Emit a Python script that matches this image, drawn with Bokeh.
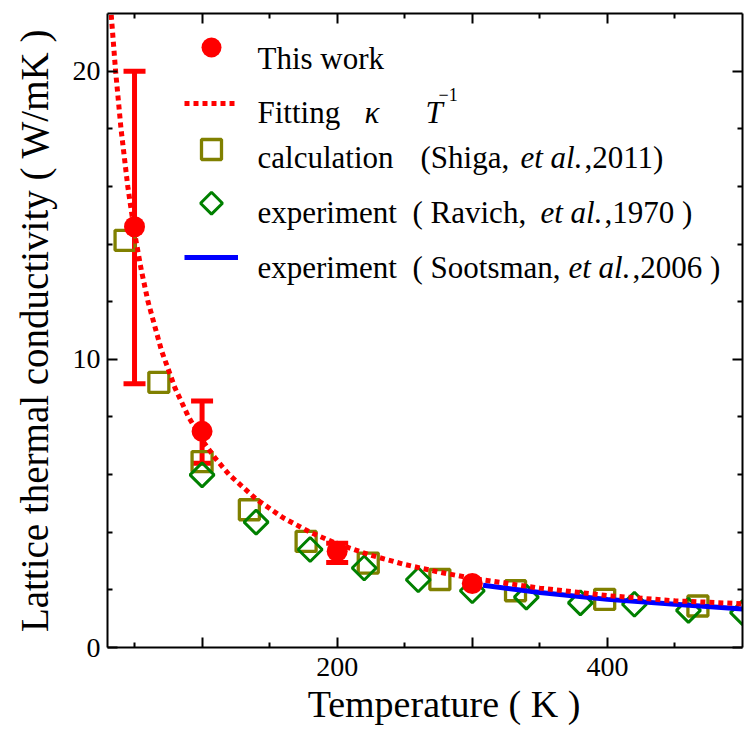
import numpy as np
from bokeh.plotting import figure
from bokeh.models import (Range1d, LinearAxis, FixedTicker, ColumnDataSource,
                          Whisker, TeeHead, Legend, LegendItem, Label)
from bokeh.embed import file_html
from bokeh.resources import INLINE

# ---------------- data ----------------
this_T = [50, 100, 200, 300]
this_k = [14.6, 7.5, 3.34, 2.22]
err_T = [50, 100, 200]
err_hi = [20.0, 8.55, 3.62]
err_lo = [9.15, 6.39, 2.95]

fit_T = [31, 33, 36, 40, 45, 50, 55, 60, 70, 80, 90, 100, 110, 120, 140, 160,
         180, 200, 225, 250, 275, 300, 350, 400, 450, 500]
fit_k = [23.2, 21.8, 20.0, 18.0, 16.0, 14.4, 13.1, 12.0, 10.3, 9.0, 8.0, 7.2,
         6.55, 6.0, 5.15, 4.5, 4.0, 3.6, 3.2, 2.88, 2.62, 2.4, 2.06, 1.80, 1.62, 1.52]

shiga_T = [43, 68, 100, 135, 177, 223, 276, 332, 398, 467]
shiga_k = [14.13, 9.2, 6.45, 4.78, 3.68, 2.93, 2.36, 1.97, 1.67, 1.44]

ravich_T = [100, 140, 180, 220, 260, 300, 340, 380, 420, 460, 500]
ravich_k = [5.99, 4.35, 3.40, 2.76, 2.35, 1.97, 1.75, 1.55, 1.50, 1.29, 1.21]

soots_T = [308, 350, 400, 450, 500]
soots_k = [2.16, 1.91, 1.67, 1.50, 1.34]

x_major = [100, 200, 300, 400]
x_labels = {100: "", 200: "200", 300: "", 400: "400"}
x_minor = [50, 150, 250, 350, 450]
y_major = [0, 10, 20]
y_minor = [2, 4, 6, 8, 12, 14, 16, 18]

FONT = "Liberation Serif"
RED, OLIVE, GREEN, BLUE = "#FF0000", "#808000", "#008000", "#0000FF"

# frame geometry (canvas px)
FL, FT, FR, FB = 107, 13, 742, 647

p = figure(width=750, height=735, output_backend="svg", toolbar_location=None,
           x_range=Range1d(30, 500), y_range=Range1d(0, 22),
           min_border_left=FL, min_border_top=FT, min_border_right=750 - FR,
           min_border_bottom=735 - FB, x_axis_type=None, y_axis_type=None)
p.grid.visible = False
p.outline_line_color = None
p.background_fill_color = "white"
p.border_fill_color = "white"
# pixel-space ranges used only to place a legend key
p.extra_x_ranges = {"px": Range1d(FL, FR)}
p.extra_y_ranges = {"px": Range1d(FB, FT)}


def style_axis(ax, ticker, labels=True):
    ax.ticker = ticker
    ax.axis_line_width = 2
    ax.axis_line_color = "black"
    ax.major_tick_line_color = "black"
    ax.minor_tick_line_color = "black"
    ax.major_tick_line_width = 2
    ax.minor_tick_line_width = 2
    ax.major_tick_in = 10
    ax.major_tick_out = 0
    ax.minor_tick_in = 5
    ax.minor_tick_out = 0
    ax.major_label_text_font = FONT
    ax.major_label_text_color = "black"
    ax.axis_label_text_font = FONT
    ax.axis_label_text_color = "black"
    ax.axis_label_text_font_style = "normal"
    if not labels:
        ax.major_label_text_font_size = "0px"
        ax.major_label_standoff = 0


xt = FixedTicker(ticks=x_major, minor_ticks=x_minor)
yt = FixedTicker(ticks=y_major, minor_ticks=y_minor)

xb = LinearAxis(axis_label="\u00a0\u00a0\u00a0\u00a0Temperature ( K )")
style_axis(xb, xt)
xb.major_label_overrides = x_labels
xb.major_label_text_font_size = "28px"
xb.major_label_standoff = 10
xb.axis_label_text_font_size = "38px"
xb.axis_label_standoff = 4
p.add_layout(xb, "below")

yl = LinearAxis(axis_label="Lattice thermal conductivity ( W/mK )")
style_axis(yl, yt)
yl.major_label_text_font_size = "28px"
yl.major_label_standoff = 7
yl.axis_label_text_font_size = "39px"
yl.axis_label_standoff = 14
p.add_layout(yl, "left")

xa = LinearAxis()
style_axis(xa, FixedTicker(ticks=x_major, minor_ticks=x_minor), labels=False)
xa.major_label_overrides = {t: "" for t in x_major}
p.add_layout(xa, "above")

yr = LinearAxis()
style_axis(yr, FixedTicker(ticks=y_major, minor_ticks=y_minor), labels=False)
yr.major_label_overrides = {t: "" for t in y_major}
p.add_layout(yr, "right")

# ---------------- glyphs ----------------
r_sq = p.scatter(shiga_T, shiga_k, marker="square", size=20, fill_color=None,
                 line_color=OLIVE, line_width=3.3)
r_di = p.scatter(ravich_T, ravich_k, marker="square", angle=np.pi / 4, size=17,
                 fill_color=None, line_color=GREEN, line_width=3)
r_bl = p.line(soots_T, soots_k, line_color=BLUE, line_width=5)
r_fit = p.line(fit_T, fit_k, line_color=RED, line_width=5, line_dash="5 4")
r_ci = p.scatter(this_T, this_k, marker="circle", size=21, fill_color=RED,
                 line_color=None)

err_src = ColumnDataSource(dict(T=err_T, hi=err_hi, lo=err_lo))
p.add_layout(Whisker(base="T", upper="hi", lower="lo", source=err_src,
                     line_color=RED, line_width=5,
                     upper_head=TeeHead(size=22, line_color=RED, line_width=5),
                     lower_head=TeeHead(size=22, line_color=RED, line_width=5)))

# ---------------- legend keys ----------------
for rend, yc in [(r_ci, 47.3), (r_fit, 102.7), (r_sq, 149.3), (r_bl, 256.7)]:
    leg = Legend(items=[LegendItem(label=" ", renderers=[rend])],
                 location=(184 - FL, FB - yc - 25), glyph_width=54, glyph_height=50,
                 padding=0, margin=0, spacing=0, label_standoff=0, label_width=0,
                 label_height=0, label_text_font_size="1px",
                 border_line_color=None, background_fill_alpha=0)
    p.add_layout(leg)

# diamond key (Bokeh legends draw markers unrotated), placed in pixel space
p.scatter([211], [202.7], marker="square", angle=np.pi / 4, size=15.5,
          fill_color=None, line_color=GREEN, line_width=3,
          x_range_name="px", y_range_name="px")


def add_text(txt, X, Y, size="31px", style="normal"):
    p.add_layout(Label(x=X - FL, y=FB - Y, x_units="screen", y_units="screen",
                       text=txt, text_font=FONT, text_font_size=size,
                       text_font_style=style, text_baseline="alphabetic",
                       text_align="left", text_color="black"))


add_text("This work", 257, 58.3)
add_text("Fitting", 257, 112.3)
add_text("κ", 364, 112.3, style="italic")
add_text("T", 425, 112.3, style="italic")
add_text("−1", 438, 94, size="18px")
add_text("calculation", 257, 156.7)
add_text("(Shiga,", 420, 156.7)
add_text("et al.", 520, 156.7, style="italic")
add_text(",2011)", 584, 156.7)
add_text("experiment", 257, 212)
add_text("( Ravich,", 412, 212)
add_text("et al.", 540, 212, style="italic")
add_text(",1970 )", 604, 212)
add_text("experiment", 257, 267)
add_text("( Sootsman,", 412, 267)
add_text("et al.", 568, 267, style="italic")
add_text(",2006 )", 632, 267)

open("out.html", "w").write(file_html(p, INLINE))
